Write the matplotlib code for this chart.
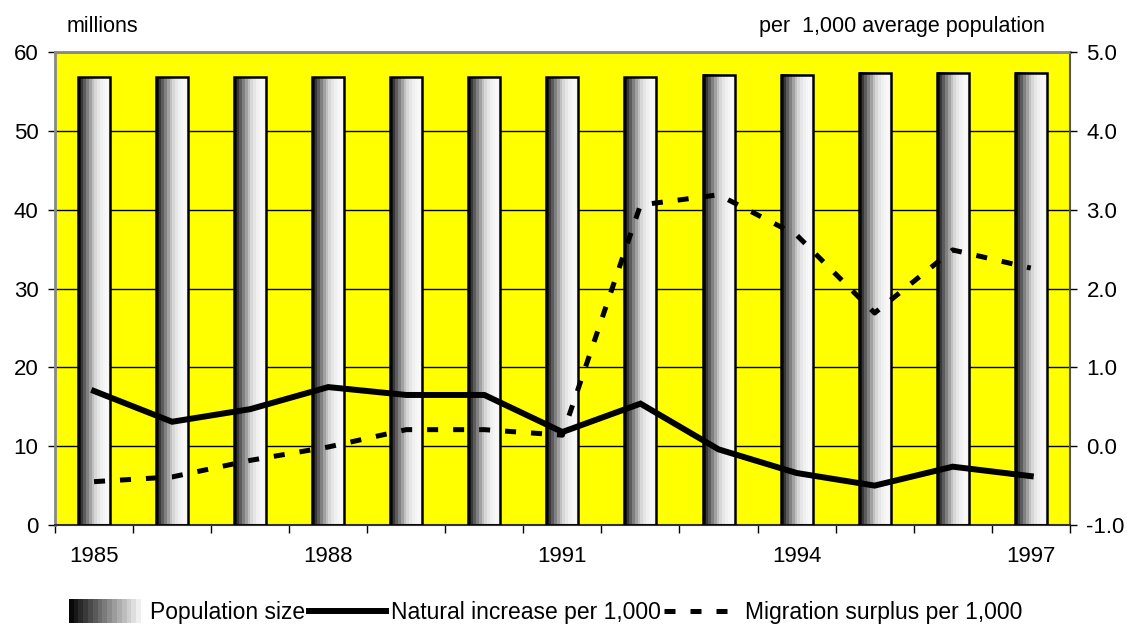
import numpy as np
import matplotlib
matplotlib.use("Agg")
import matplotlib.pyplot as plt
from matplotlib.patches import Rectangle
from matplotlib.lines import Line2D
from matplotlib.legend_handler import HandlerBase

plt.rcParams['font.family'] = ['Liberation Sans', 'DejaVu Sans']

years = [1985, 1986, 1987, 1988, 1989, 1990, 1991, 1992, 1993, 1994, 1995, 1996, 1997]
population = [56.8, 56.8, 56.8, 56.8, 56.8, 56.8, 56.8, 56.8, 57.1, 57.1, 57.4, 57.4, 57.4]
natural = [0.70, 0.31, 0.47, 0.75, 0.65, 0.65, 0.18, 0.54, -0.04, -0.34, -0.50, -0.26, -0.38]
migration = [-0.45, -0.39, -0.18, -0.01, 0.21, 0.21, 0.14, 3.06, 3.19, 2.68, 1.69, 2.49, 2.26]
year_labels = ['1985', '1988', '1991', '1994', '1997']

# stepped grey shading used for the bars (dark left -> light right)
shade = np.array([0.08, 0.22, 0.36, 0.5, 0.63, 0.75, 0.84, 0.9, 0.94, 0.96, 0.97, 0.96])

fig = plt.figure(figsize=(11.3, 6.28), dpi=100)
ax = fig.add_axes([0.0487, 0.164, 0.898, 0.753])
ax.set_facecolor('#FFFF00')

x = np.arange(len(years))
bw = 0.41

ax.yaxis.grid(True, color='black', linewidth=1.0, zorder=0)
ax.set_axisbelow(True)
for xi, h in zip(x, population):
    ax.imshow(shade[np.newaxis, :], cmap='gray', vmin=0, vmax=1,
              extent=(xi - bw / 2, xi + bw / 2, 0, h), aspect='auto',
              interpolation='nearest', zorder=2)
    ax.add_patch(Rectangle((xi - bw / 2, 0), bw, h, fill=False,
                           edgecolor='black', linewidth=1.8, zorder=3))

ax.set_xlim(-0.5, len(years) - 0.5)
ax.set_ylim(0, 60)
ax.set_yticks(range(0, 61, 10))
ax.set_xticks(np.arange(-0.5, len(years), 1.0))
ax.set_xticklabels([])
ax.set_xticks([years.index(int(y)) for y in year_labels], minor=True)
ax.set_xticklabels(year_labels, minor=True)
ax.tick_params(axis='x', which='major', length=6, width=1, direction='out')
ax.tick_params(axis='x', which='minor', length=0, pad=15, labelsize=16)
ax.tick_params(axis='y', length=5, width=1, labelsize=16, pad=7)

for s in ['top', 'left']:
    ax.spines[s].set_color('#888888')
    ax.spines[s].set_linewidth(2)
ax.spines['right'].set_color('#555555')
ax.spines['right'].set_linewidth(1.5)
ax.spines['bottom'].set_color('#333333')
ax.spines['bottom'].set_linewidth(1.5)

ax2 = ax.twinx()
ax2.set_ylim(-1, 5)
ax2.set_yticks(np.arange(-1, 5.01, 1))
ax2.set_yticklabels(['%.1f' % v for v in np.arange(-1, 5.01, 1)])
ax2.tick_params(axis='y', length=5, width=1, labelsize=16, pad=7)
for s in ax2.spines.values():
    s.set_visible(False)

ax2.plot(x, natural, color='black', linewidth=4.3, solid_joinstyle='miter', zorder=5)
ax2.plot(x, migration, color='black', linewidth=3.6, linestyle=(0, (2.2, 3.0)), zorder=5)

fig.text(0.059, 0.958, 'millions', fontsize=15.5, va='center', ha='left')
fig.text(0.925, 0.958, 'per  1,000 average population', fontsize=15.5, va='center', ha='right')


class GradHandler(HandlerBase):
    def create_artists(self, legend, orig_handle, xdescent, ydescent,
                       width, height, fontsize, trans):
        steps = np.linspace(0.03, 1.0, 16)
        arts = []
        for k, g in enumerate(steps):
            arts.append(Rectangle((-xdescent + k * width / len(steps), -ydescent - 0.2 * height),
                                  width / len(steps) + 0.01, height * 1.45,
                                  facecolor=str(g), edgecolor='none', transform=trans))
        return arts


pop_handle = Rectangle((0, 0), 1, 1)
nat_handle = Line2D([], [], color='black', linewidth=4.3)
mig_handle = Line2D([], [], color='black', linewidth=3.6, linestyle=(0, (2.2, 3.0)))
fig.legend([pop_handle, nat_handle, mig_handle],
           ['Population size', 'Natural increase per 1,000', 'Migration surplus per 1,000'],
           handler_map={Rectangle: GradHandler()},
           loc='lower center', bbox_to_anchor=(0.483, -0.027), ncol=3, frameon=False,
           fontsize=16.5, handlelength=3.36, handletextpad=0.2, columnspacing=0.15)

plt.savefig('out.png', dpi=100)
